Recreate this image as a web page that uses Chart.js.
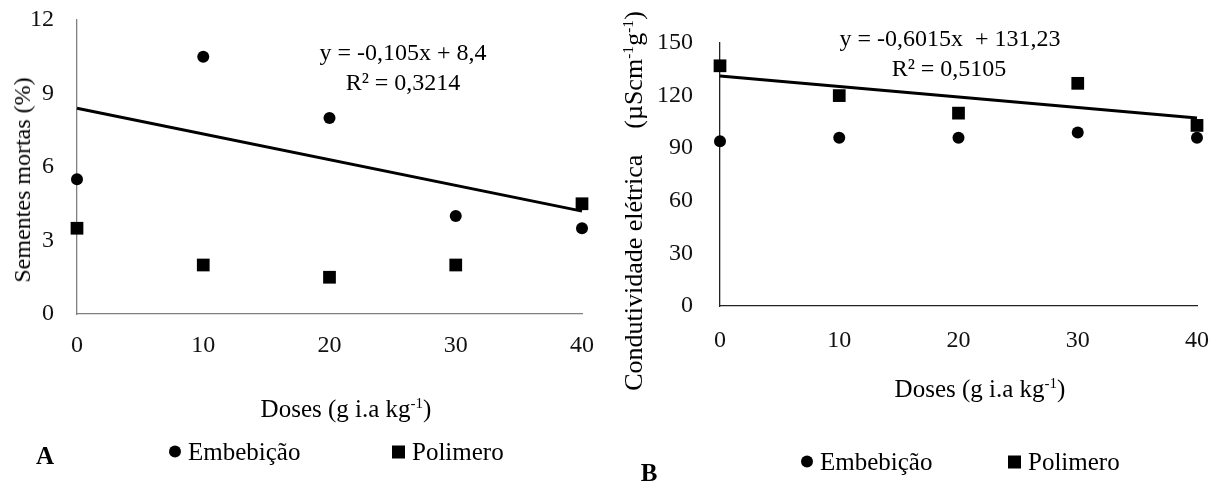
<!DOCTYPE html>
<html>
<head>
<meta charset="utf-8">
<script src="https://cdn.jsdelivr.net/npm/chart.js@4.4.1/dist/chart.umd.min.js"></script>
<style>
  body { margin: 0; background: #fff; }
  #wrap { position: relative; width: 1222px; height: 484px; font-family: 'Liberation Serif', 'Times New Roman', serif; color: #000; overflow: hidden; }
  canvas { position: absolute; top: 0; }
  .txt { position: absolute; white-space: nowrap; line-height: 1; transform: translate(-50%, -50%); }
  .vt { transform: translate(-50%, -50%) rotate(-90deg); }
  .txt sup { font-size: 0.6em; vertical-align: 0.6em; line-height: 0; }
  .leg { position: absolute; white-space: nowrap; font-size: 25px; line-height: 1; transform: translateY(-50%); }
  .dot, .sq { display: inline-block; width: 12px; height: 12px; background: #000; vertical-align: middle; margin-right: 7px; position: relative; top: -2px; }
  .dot { border-radius: 50%; }
  .sq { width: 13px; height: 13px; }
</style>
</head>
<body>
<div id="wrap">
  <canvas id="chartA" width="611" height="484" style="left:0"></canvas>
  <canvas id="chartB" width="611" height="484" style="left:611px"></canvas>

  <div class="txt vt" style="left:22px; top:180px; font-size:24px">Sementes mortas (%)</div>
  <div class="txt" style="left:403px; top:52px; font-size:24px">y = -0,105x + 8,4</div>
  <div class="txt" style="left:403px; top:82px; font-size:24px">R² = 0,3214</div>
  <div class="txt" style="left:346px; top:408px; font-size:25px">Doses (g i.a kg<sup>-1</sup>)</div>
  <div class="txt" style="left:45px; top:455px; font-size:25px; font-weight:bold">A</div>
  <div class="leg" style="left:169px; top:451px"><span class="dot"></span>Embebição</div>
  <div class="leg" style="left:392px; top:451px"><span class="sq"></span>Polimero</div>

  <div class="txt vt" style="left:634px; top:201px; font-size:26px">Condutividade elétrica&nbsp;&nbsp;&nbsp;&nbsp;(µScm<sup>-1</sup>g<sup>-1</sup>)</div>
  <div class="txt" style="left:950px; top:38px; font-size:24px">y = -0,6015x&nbsp;&nbsp;+ 131,23</div>
  <div class="txt" style="left:949px; top:68px; font-size:24px">R² = 0,5105</div>
  <div class="txt" style="left:980px; top:388px; font-size:25px">Doses (g i.a kg<sup>-1</sup>)</div>
  <div class="txt" style="left:649px; top:472px; font-size:25px; font-weight:bold">B</div>
  <div class="leg" style="left:801px; top:461px"><span class="dot"></span>Embebição</div>
  <div class="leg" style="left:1008px; top:461px"><span class="sq"></span>Polimero</div>
</div>

<script>
// doses applied (g i.a. kg-1)
const doses = [0, 10, 20, 30, 40];

// A - dead seeds (%)
const mortasEmbebicao = [5.5, 10.5, 8, 4, 3.5];
const mortasPolimero = [3.5, 2, 1.5, 2, 4.5];
const mortasTicks = [0, 3, 6, 9, 12];
const mortasFit = [-0.105, 8.4];      // slope, intercept

// B - electrical conductivity (uS cm-1 g-1)
const condEmbebicao = [94, 96, 96, 99, 96];
const condPolimero = [137, 120, 110, 127, 103];
const condTicks = [0, 30, 60, 90, 120, 150];
const condFit = [-0.6015, 131.23];

Chart.defaults.font.family = "'Liberation Serif', 'Times New Roman', serif";
Chart.defaults.color = '#111';

function points(ys) {
    return doses.map((x, i) => ({ x: x, y: ys[i] }));
}

function fitLine(fit) {
    const x0 = doses[0], x1 = doses[doses.length - 1];
    return [{ x: x0, y: fit[0] * x0 + fit[1] }, { x: x1, y: fit[0] * x1 + fit[1] }];
}

// invisible tick marks keep the labels away from the axis without
// adding the tick padding to the chart area padding
function gridOpts(len) {
    return { display: true, drawOnChartArea: false, drawTicks: true, tickLength: len, color: 'rgba(0,0,0,0)' };
}

function makeChart(id, opts) {
    return new Chart(document.getElementById(id), {
        type: 'scatter',
        data: {
            datasets: [
                {
                    type: 'line', data: fitLine(opts.fit), borderColor: '#000', borderWidth: 3,
                    pointRadius: 0, clip: false, order: 0
                },
                {
                    label: 'Embebição', data: points(opts.embebicao), pointStyle: 'circle',
                    pointRadius: 6, backgroundColor: '#000', borderWidth: 0, clip: false, order: 1
                },
                {
                    label: 'Polimero', data: points(opts.polimero), pointStyle: 'rect',
                    pointRadius: 9, backgroundColor: '#000', borderWidth: 0, clip: false, order: 1
                }
            ]
        },
        options: {
            responsive: false,
            animation: false,
            devicePixelRatio: 1,
            layout: { autoPadding: false, padding: { top: opts.top, right: opts.right, left: 0, bottom: 0 } },
            plugins: { legend: { display: false }, tooltip: { enabled: false } },
            scales: {
                x: {
                    type: 'linear', min: 0, max: 40,
                    grid: gridOpts(opts.xPad),
                    border: { color: opts.axisColor, width: 1.3 },
                    ticks: { stepSize: 10, padding: 0, font: { size: 24 }, color: '#111' },
                    afterFit: s => { s.height = opts.xHeight; }
                },
                y: {
                    min: 0, max: opts.ticks[opts.ticks.length - 1],
                    grid: gridOpts(opts.yPad),
                    border: { color: opts.axisColor, width: 1.3 },
                    ticks: { stepSize: opts.ticks[1] - opts.ticks[0], padding: 0, font: { size: 24 }, color: '#111' },
                    afterFit: s => { s.width = opts.yWidth; }
                }
            }
        }
    });
}

makeChart('chartA', {
    embebicao: mortasEmbebicao, polimero: mortasPolimero, ticks: mortasTicks, fit: mortasFit,
    top: 20, right: 29, xHeight: 170, yWidth: 77, xPad: 17, yPad: 23, axisColor: '#808080'
});

makeChart('chartB', {
    embebicao: condEmbebicao, polimero: condPolimero, ticks: condTicks, fit: condFit,
    top: 43, right: 25, xHeight: 178, yWidth: 109, xPad: 20, yPad: 27, axisColor: '#222'
});
</script>
</body>
</html>
